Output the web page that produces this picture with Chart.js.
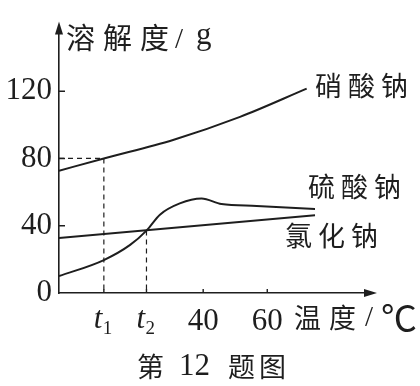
<!DOCTYPE html>
<html>
<head>
<meta charset="utf-8">
<script src="https://cdn.jsdelivr.net/npm/chart.js@4.4.1/dist/chart.umd.min.js"></script>
<style>
  html, body { margin: 0; padding: 0; background: #fff; }
  #wrap { width: 420px; height: 386px; }
</style>
</head>
<body>
<div id="wrap"><canvas id="chart"></canvas></div>
<script>
// temperatures (°C) and solubility (g)
const nitrateTemps = [-5, 9, 30.6, 51.5, 72.3];
const nitrateValues = [72.7, 80, 91, 104.7, 121.5];
const sulfateTemps = [-5, 9, 17.2, 22.3, 26.5, 32.7, 39.5, 45.7, 56.7, 74.9];
const sulfateValues = [10, 19.6, 28.6, 37.1, 46.6, 53.3, 56.2, 52.9, 51.8, 49.9];
const chlorideTemps = [-5, 74.9];
const chlorideValues = [32.7, 46.3];

const t1 = 9;
const t2 = 22.3;
const xTickValues = [t1, t2, 40, 60];
const xTickLabels = ['t1', 't2', '40', '60'];
const yTickValues = [0, 40, 80, 120];

const ink = '#1e1e1e';
const serif = '"Liberation Serif", "DejaVu Serif", serif';
const cjk = '"Noto Sans CJK SC", "Noto Sans CJK JP", sans-serif';

function toPoints(xs, ys) {
  return xs.map((x, i) => ({ x: x, y: ys[i] }));
}

function curve(xs, ys) {
  return {
    data: toPoints(xs, ys),
    borderColor: ink,
    borderWidth: 2,
    pointRadius: 0,
    cubicInterpolationMode: 'monotone',
    fill: false
  };
}

function dashed(points) {
  return {
    data: points,
    borderColor: ink,
    borderWidth: 1.2,
    borderDash: [5, 4],
    pointRadius: 0,
    tension: 0,
    fill: false
  };
}

const sulfateAtT2 = sulfateValues[sulfateTemps.indexOf(t2)];
const nitrateAtT1 = nitrateValues[nitrateTemps.indexOf(t1)];

function text(ctx, str, x, y, font, spacing) {
  ctx.font = font;
  ctx.letterSpacing = (spacing || 0) + 'px';
  ctx.fillText(str, x, y);
  ctx.letterSpacing = '0px';
}

const decorations = {
  id: 'decorations',
  afterDraw(chart) {
    const ctx = chart.ctx;
    const area = chart.chartArea;
    const xs = chart.scales.x;
    const ys = chart.scales.y;
    ctx.save();
    ctx.fillStyle = ink;
    ctx.strokeStyle = ink;
    ctx.lineWidth = 1.4;

    // arrow heads
    ctx.beginPath();
    ctx.moveTo(area.left, area.top - 4);
    ctx.lineTo(area.left - 4, area.top + 9);
    ctx.lineTo(area.left + 4, area.top + 9);
    ctx.closePath();
    ctx.fill();
    ctx.beginPath();
    ctx.moveTo(area.right + 4, area.bottom);
    ctx.lineTo(area.right - 9, area.bottom - 4);
    ctx.lineTo(area.right - 9, area.bottom + 4);
    ctx.closePath();
    ctx.fill();

    // inward tick marks
    ctx.beginPath();
    yTickValues.forEach(v => {
      if (v === 0) return;
      const py = ys.getPixelForValue(v);
      ctx.moveTo(area.left, py);
      ctx.lineTo(area.left + 6, py);
    });
    xTickValues.forEach(v => {
      const px = xs.getPixelForValue(v);
      ctx.moveTo(px, area.bottom);
      ctx.lineTo(px, area.bottom - 4);
    });
    ctx.stroke();

    // t1, t2 labels
    ctx.textBaseline = 'alphabetic';
    ctx.textAlign = 'left';
    xTickLabels.forEach((lab, i) => {
      if (lab[0] !== 't') return;
      const px = xs.getPixelForValue(xTickValues[i]);
      text(ctx, 't', px - 10, 328, 'italic 31px ' + serif);
      text(ctx, lab.slice(1), px - 1, 334, '19px ' + serif);
    });

    // titles and series labels
    ctx.textBaseline = 'middle';
    text(ctx, '溶解度', 66, 38, '29px ' + cjk, 8);
    text(ctx, '/', 175, 40, '29px ' + serif);
    text(ctx, 'g', 196, 36, '31px ' + serif);

    text(ctx, '硝酸钠', 315, 86, '27px ' + cjk, 6);
    text(ctx, '硫酸钠', 308, 187, '27px ' + cjk, 6);
    text(ctx, '氯化钠', 285, 236, '27px ' + cjk, 6);

    text(ctx, '温度', 294, 318, '27px ' + cjk, 8);
    text(ctx, '/', 365, 318, '29px ' + serif);
    text(ctx, '℃', 381, 318, '36px ' + cjk);

    text(ctx, '第', 137, 367, '27px ' + cjk);
    text(ctx, '12', 179, 367, '31px ' + serif);
    text(ctx, '题图', 228, 367, '27px ' + cjk, 4);
    ctx.restore();
  }
};

new Chart(document.getElementById('chart'), {
  type: 'line',
  data: {
    datasets: [
      curve(nitrateTemps, nitrateValues),
      curve(sulfateTemps, sulfateValues),
      curve(chlorideTemps, chlorideValues),
      dashed([{ x: -5, y: nitrateAtT1 }, { x: t1, y: nitrateAtT1 }, { x: t1, y: 0 }]),
      dashed([{ x: t2, y: sulfateAtT2 }, { x: t2, y: 0 }])
    ]
  },
  options: {
    responsive: true,
    maintainAspectRatio: false,
    animation: false,
    layout: { padding: { left: 0, right: 47, top: 15, bottom: 0 } },
    plugins: {
      legend: { display: false },
      tooltip: { enabled: false }
    },
    scales: {
      x: {
        type: 'linear',
        min: -5,
        max: 93,
        afterFit: s => { s.height = 93; },
        afterBuildTicks: s => { s.ticks = xTickValues.map(v => ({ value: v })); },
        grid: { display: false, drawTicks: false },
        border: { display: true, color: ink, width: 1.6 },
        ticks: {
          padding: 10,
          color: ink,
          font: { family: serif, size: 31 },
          maxRotation: 0,
          autoSkip: false,
          callback: (v, i) => xTickLabels[i][0] === 't' ? '' : xTickLabels[i]
        }
      },
      y: {
        type: 'linear',
        min: 0,
        max: 159,
        afterFit: s => { s.width = 59; },
        afterBuildTicks: s => { s.ticks = yTickValues.map(v => ({ value: v })); },
        grid: { display: false, drawTicks: false },
        border: { display: true, color: ink, width: 1.6 },
        ticks: {
          padding: 7,
          color: ink,
          font: { family: serif, size: 31 },
          callback: v => String(v)
        }
      }
    }
  },
  plugins: [decorations]
});
</script>
</body>
</html>
